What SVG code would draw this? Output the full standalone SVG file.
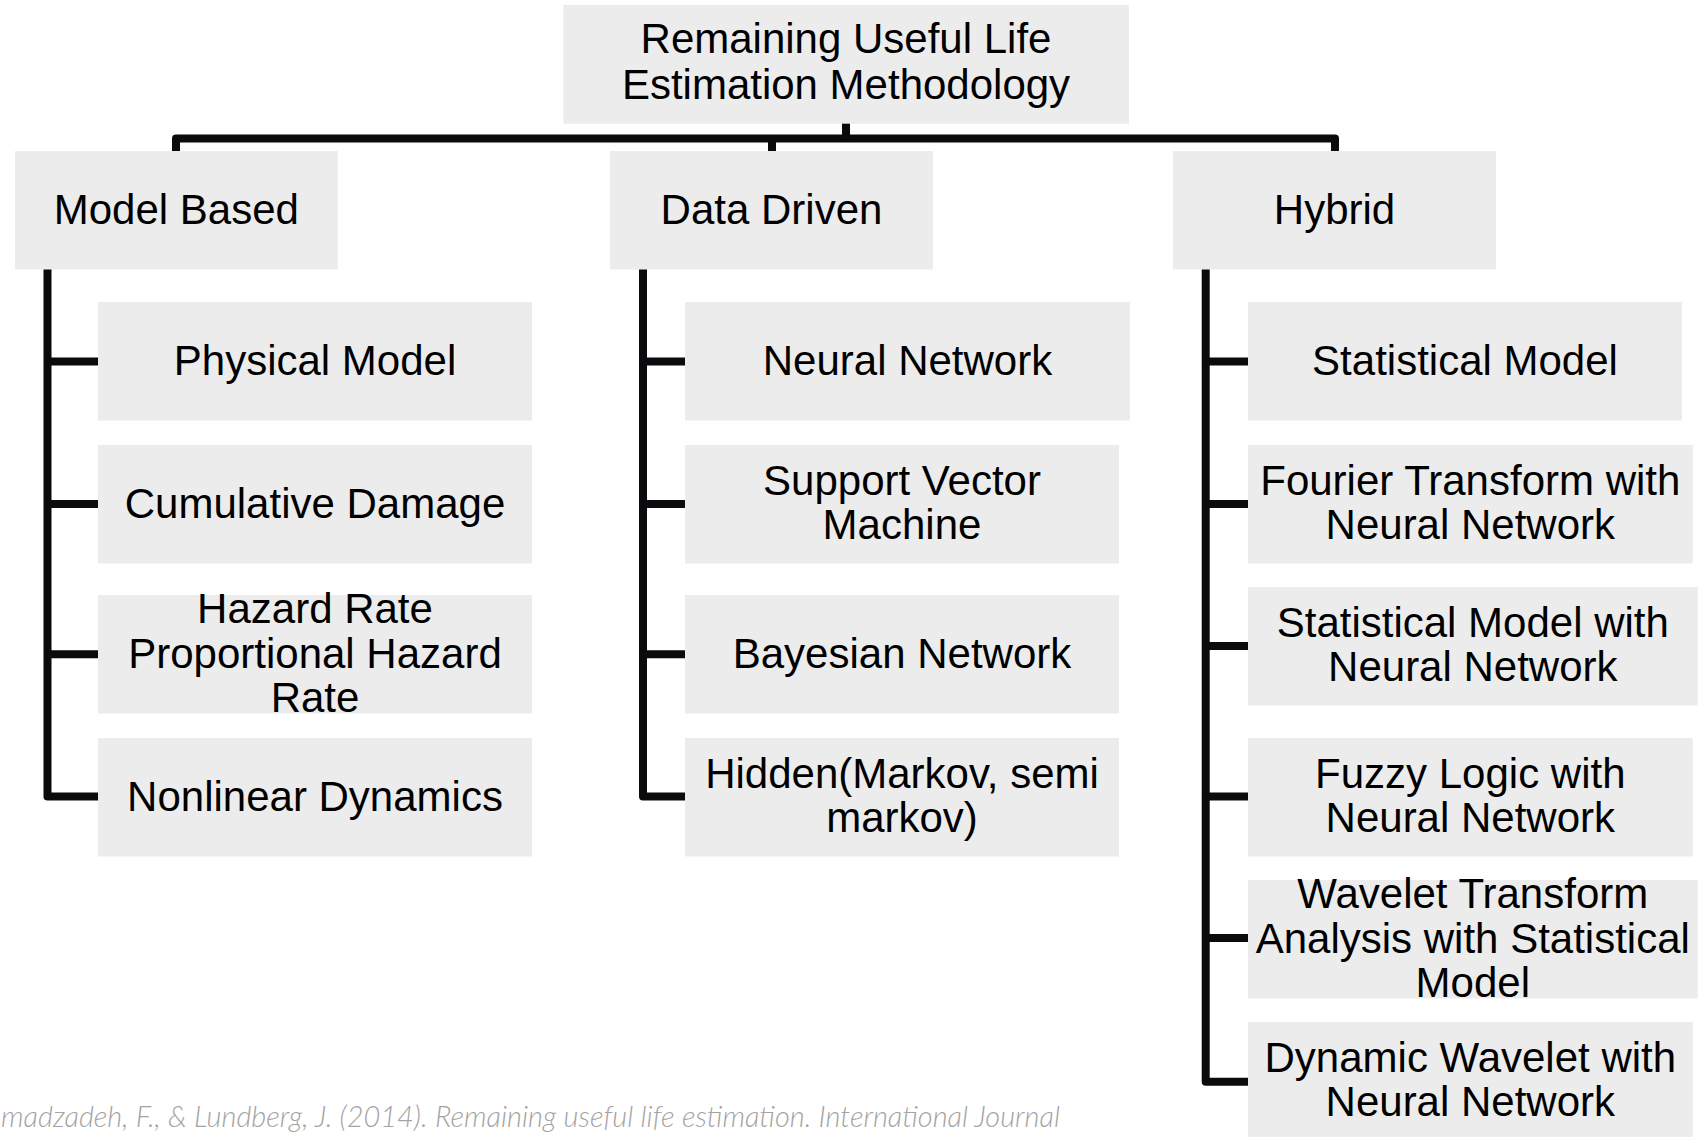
<svg xmlns="http://www.w3.org/2000/svg" width="1699" height="1137" viewBox="0 0 1699 1137">
<style>
  .box { fill: #ececec; }
  .lbl { font-family: "Liberation Sans", Arial, sans-serif; font-size: 42px; fill: #000; text-anchor: middle; }
  .ln { fill: none; stroke: #0b0b0d; stroke-width: 8; stroke-linejoin: round; stroke-linecap: butt; }
  .foot { font-family: Lato, "Open Sans", sans-serif; font-style: italic; font-weight: 300; font-size: 29px; fill: #a3a3a3; }
</style>
<rect width="1699" height="1137" fill="#ffffff"/>
<g id="connectors">
  <path class="ln" d="M176,160 V138.5 H1335 V160"/>
  <path class="ln" d="M846,120 V138.5"/>
  <path class="ln" d="M772,138.5 V160"/>
  <!-- Model Based -->
  <path class="ln" d="M47.5,265 V796.6 H100"/>
  <path class="ln" d="M47.5,361.5 H100"/>
  <path class="ln" d="M47.5,504 H100"/>
  <path class="ln" d="M47.5,654.3 H100"/>
  <!-- Data Driven -->
  <path class="ln" d="M643,265 V796.6 H687"/>
  <path class="ln" d="M643,361.5 H687"/>
  <path class="ln" d="M643,504 H687"/>
  <path class="ln" d="M643,654.3 H687"/>
  <!-- Hybrid -->
  <path class="ln" d="M1205.7,265 V1081.7 H1250"/>
  <path class="ln" d="M1205.7,361.5 H1250"/>
  <path class="ln" d="M1205.7,504 H1250"/>
  <path class="ln" d="M1205.7,646 H1250"/>
  <path class="ln" d="M1205.7,796.6 H1250"/>
  <path class="ln" d="M1205.7,938 H1250"/>
</g>
<g id="root">
  <rect class="box" x="563.5" y="5" width="565.5" height="118.7"/>
  <text class="lbl" x="846"><tspan x="846" y="53">Remaining Useful Life</tspan><tspan x="846" y="99">Estimation Methodology</tspan></text>
</g>
<g id="model-based">
  <rect class="box" x="15" y="151" width="322.7" height="118.5"/>
  <text class="lbl" x="176.3" y="223.5">Model Based</text>
</g>
<g id="data-driven">
  <rect class="box" x="610" y="151" width="323" height="118.5"/>
  <text class="lbl" x="771.5" y="223.5">Data Driven</text>
</g>
<g id="hybrid">
  <rect class="box" x="1173" y="151" width="323" height="118.5"/>
  <text class="lbl" x="1334.5" y="223.5">Hybrid</text>
</g>
<g id="physical-model">
  <rect class="box" x="98" y="302" width="434" height="118.5"/>
  <text class="lbl" x="315" y="375.3">Physical Model</text>
</g>
<g id="cumulative-damage">
  <rect class="box" x="98" y="445" width="434" height="118.5"/>
  <text class="lbl" x="315" y="518.3">Cumulative Damage</text>
</g>
<g id="hazard-rate">
  <rect class="box" x="98" y="595" width="434" height="118.5"/>
  <text class="lbl"><tspan x="315" y="623.3">Hazard Rate</tspan><tspan x="315" y="667.8">Proportional Hazard</tspan><tspan x="315" y="712">Rate</tspan></text>
</g>
<g id="nonlinear-dynamics">
  <rect class="box" x="98" y="738" width="434" height="118.5"/>
  <text class="lbl" x="315" y="811.3">Nonlinear Dynamics</text>
</g>
<g id="neural-network">
  <rect class="box" x="685" y="302" width="445" height="118.5"/>
  <text class="lbl" x="907.5" y="375.3">Neural Network</text>
</g>
<g id="svm">
  <rect class="box" x="685" y="445" width="434" height="118.5"/>
  <text class="lbl"><tspan x="902" y="494.8">Support Vector</tspan><tspan x="902" y="539.3">Machine</tspan></text>
</g>
<g id="bayesian-network">
  <rect class="box" x="685" y="595" width="434" height="118.5"/>
  <text class="lbl" x="902" y="668.3">Bayesian Network</text>
</g>
<g id="hidden-markov">
  <rect class="box" x="685" y="738" width="434" height="118.5"/>
  <text class="lbl"><tspan x="902" y="787.8">Hidden(Markov, semi</tspan><tspan x="902" y="832.3">markov)</tspan></text>
</g>
<g id="statistical-model">
  <rect class="box" x="1248" y="302" width="434" height="118.5"/>
  <text class="lbl" x="1465" y="375.3">Statistical Model</text>
</g>
<g id="fourier-nn">
  <rect class="box" x="1248" y="445" width="444.7" height="118.5"/>
  <text class="lbl"><tspan x="1470.3" y="494.8">Fourier Transform with</tspan><tspan x="1470.3" y="539.3">Neural Network</tspan></text>
</g>
<g id="statistical-nn">
  <rect class="box" x="1248" y="587" width="449.7" height="118.5"/>
  <text class="lbl"><tspan x="1472.8" y="636.8">Statistical Model with</tspan><tspan x="1472.8" y="681.3">Neural Network</tspan></text>
</g>
<g id="fuzzy-nn">
  <rect class="box" x="1248" y="738" width="444.7" height="118.5"/>
  <text class="lbl"><tspan x="1470.3" y="787.8">Fuzzy Logic with</tspan><tspan x="1470.3" y="832.3">Neural Network</tspan></text>
</g>
<g id="wavelet-statistical">
  <rect class="box" x="1248" y="880" width="449.7" height="118.5"/>
  <text class="lbl"><tspan x="1472.8" y="908.3">Wavelet Transform</tspan><tspan x="1472.8" y="952.8">Analysis with Statistical</tspan><tspan x="1472.8" y="997.3">Model</tspan></text>
</g>
<g id="dynamic-wavelet-nn">
  <rect class="box" x="1248" y="1022" width="444.7" height="118.5"/>
  <text class="lbl"><tspan x="1470.3" y="1071.8">Dynamic Wavelet with</tspan><tspan x="1470.3" y="1116.3">Neural Network</tspan></text>
</g>
<text class="foot" x="1" y="1127.3" textLength="1059" lengthAdjust="spacingAndGlyphs">madzadeh, F., &amp; Lundberg, J. (2014). Remaining useful life estimation. International Journal</text>
</svg>
